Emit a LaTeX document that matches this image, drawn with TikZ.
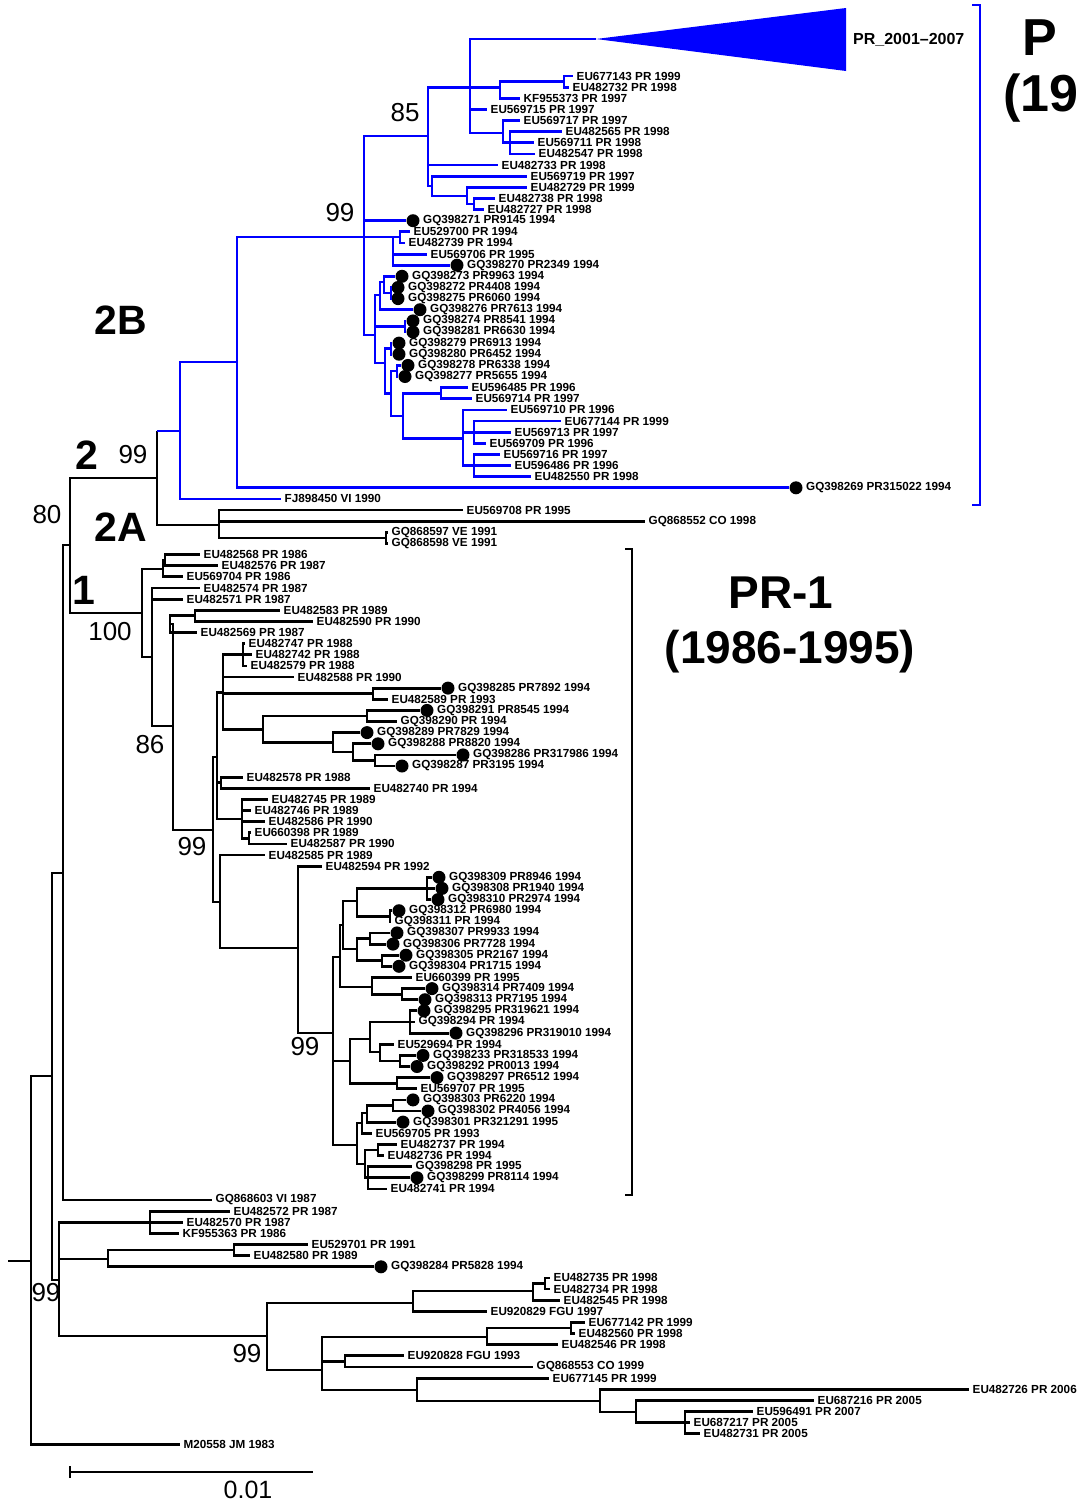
\documentclass[tikz,border=0pt]{standalone}
\usepackage{fontspec}
\setmainfont{Liberation Sans}
\definecolor{treeblue}{RGB}{0,0,255}
\newcommand\labfont{\bfseries\fontsize{11.7}{12}\selectfont}
\newcommand\trifont{\bfseries\fontsize{16}{17}\selectfont}
\newcommand\suppfont{\fontsize{26}{28}\selectfont}
\newcommand\cladefont{\bfseries\fontsize{41}{43}\selectfont}
\newcommand\groupfont{\bfseries\fontsize{46}{48}\selectfont}
\newcommand\edgefont{\bfseries\fontsize{52}{54}\selectfont}
\newcommand\scalefont{\fontsize{25}{27}\selectfont}
\newcommand\tleaf[4]{\node[leaf] (#1) at (#2,#3) {#4};}
\newcommand\tdot[4]{\node[dotn] (#1) at (#2,#3) {}; \node[lbl] (#1t) at ({#2+10},#3) {#4};}
\begin{document}
\begin{tikzpicture}[x=1pt,y=-1pt,
  br/.style={line width=2.8pt},
  bb/.style={line width=2.8pt, draw=treeblue},
  leaf/.style={anchor=west, inner xsep=3.5pt, inner ysep=0pt, font=\labfont},
  lbl/.style={anchor=west, inner sep=0pt, font=\labfont},
  dotn/.style={circle, fill=black, minimum size=13pt, inner sep=0pt},
  supp/.style={font=\suppfont, inner sep=0pt},
  clade/.style={font=\cladefont, inner sep=0pt},
  grp/.style={font=\groupfont, inner sep=0pt}]
\useasboundingbox (0,0) rectangle (1081,1510);
\clip (0,0) rectangle (1081,1510);
\fill[white] (0,0) rectangle (1081,1510);

% ---------------- leaves ----------------
\tleaf{l2}{573}{76.0}{EU677143 PR 1999}
\tleaf{l3}{569}{87.1}{EU482732 PR 1998}
\tleaf{l4}{520}{98.3}{KF955373 PR 1997}
\tleaf{l5}{487}{109.4}{EU569715 PR 1997}
\tleaf{l6}{520}{120.5}{EU569717 PR 1997}
\tleaf{l7}{562}{131.7}{EU482565 PR 1998}
\tleaf{l8}{534}{142.8}{EU569711 PR 1998}
\tleaf{l9}{535}{153.9}{EU482547 PR 1998}
\tleaf{l10}{498}{165.0}{EU482733 PR 1998}
\tleaf{l11}{527}{176.2}{EU569719 PR 1997}
\tleaf{l12}{527}{187.3}{EU482729 PR 1999}
\tleaf{l13}{495}{198.4}{EU482738 PR 1998}
\tleaf{l14}{484}{209.6}{EU482727 PR 1998}
\tdot{l15}{413}{220.7}{GQ398271 PR9145 1994}
\tleaf{l16}{410}{231.8}{EU529700 PR 1994}
\tleaf{l17}{405}{242.9}{EU482739 PR 1994}
\tleaf{l18}{427}{254.1}{EU569706 PR 1995}
\tdot{l19}{457}{265.2}{GQ398270 PR2349 1994}
\tdot{l20}{402}{276.3}{GQ398273 PR9963 1994}
\tdot{l21}{398}{287.5}{GQ398272 PR4408 1994}
\tdot{l22}{398}{298.6}{GQ398275 PR6060 1994}
\tdot{l23}{420}{309.7}{GQ398276 PR7613 1994}
\tdot{l24}{413}{320.9}{GQ398274 PR8541 1994}
\tdot{l25}{413}{332.0}{GQ398281 PR6630 1994}
\tdot{l26}{399}{343.1}{GQ398279 PR6913 1994}
\tdot{l27}{399}{354.2}{GQ398280 PR6452 1994}
\tdot{l28}{408}{365.4}{GQ398278 PR6338 1994}
\tdot{l29}{405}{376.5}{GQ398277 PR5655 1994}
\tleaf{l30}{468}{387.6}{EU596485 PR 1996}
\tleaf{l31}{472}{398.8}{EU569714 PR 1997}
\tleaf{l32}{507}{409.9}{EU569710 PR 1996}
\tleaf{l33}{561}{421.0}{EU677144 PR 1999}
\tleaf{l34}{511}{432.1}{EU569713 PR 1997}
\tleaf{l35}{486}{443.3}{EU569709 PR 1996}
\tleaf{l36}{500}{454.4}{EU569716 PR 1997}
\tleaf{l37}{511}{465.5}{EU596486 PR 1996}
\tleaf{l38}{531}{476.7}{EU482550 PR 1998}
\tdot{l39}{796}{487.8}{GQ398269 PR315022 1994}
\tleaf{l40}{281}{498.9}{FJ898450 VI 1990}
\tleaf{l41}{463}{510.0}{EU569708 PR 1995}
\tleaf{l42}{645}{521.2}{GQ868552 CO 1998}
\tleaf{l43}{388}{532.3}{GQ868597 VE 1991}
\tleaf{l44}{388}{543.4}{GQ868598 VE 1991}
\tleaf{l45}{200}{554.6}{EU482568 PR 1986}
\tleaf{l46}{218}{565.7}{EU482576 PR 1987}
\tleaf{l47}{183}{576.8}{EU569704 PR 1986}
\tleaf{l48}{200}{588.0}{EU482574 PR 1987}
\tleaf{l49}{183}{599.1}{EU482571 PR 1987}
\tleaf{l50}{280}{610.2}{EU482583 PR 1989}
\tleaf{l51}{313}{621.3}{EU482590 PR 1990}
\tleaf{l52}{197}{632.5}{EU482569 PR 1987}
\tleaf{l53}{245}{643.6}{EU482747 PR 1988}
\tleaf{l54}{252}{654.7}{EU482742 PR 1988}
\tleaf{l55}{247}{665.9}{EU482579 PR 1988}
\tleaf{l56}{294}{677.0}{EU482588 PR 1990}
\tdot{l57}{448}{688.1}{GQ398285 PR7892 1994}
\tleaf{l58}{388}{699.2}{EU482589 PR 1993}
\tdot{l59}{427}{710.4}{GQ398291 PR8545 1994}
\tleaf{l60}{397}{721.5}{GQ398290 PR 1994}
\tdot{l61}{367}{732.6}{GQ398289 PR7829 1994}
\tdot{l62}{378}{743.8}{GQ398288 PR8820 1994}
\tdot{l63}{463}{754.9}{GQ398286 PR317986 1994}
\tdot{l64}{402}{766.0}{GQ398287 PR3195 1994}
\tleaf{l65}{243}{777.1}{EU482578 PR 1988}
\tleaf{l66}{370}{788.3}{EU482740 PR 1994}
\tleaf{l67}{268}{799.4}{EU482745 PR 1989}
\tleaf{l68}{251}{810.5}{EU482746 PR 1989}
\tleaf{l69}{265}{821.7}{EU482586 PR 1990}
\tleaf{l70}{251}{832.8}{EU660398 PR 1989}
\tleaf{l71}{287}{843.9}{EU482587 PR 1990}
\tleaf{l72}{265}{855.0}{EU482585 PR 1989}
\tleaf{l73}{322}{866.2}{EU482594 PR 1992}
\tdot{l74}{439}{877.3}{GQ398309 PR8946 1994}
\tdot{l75}{442}{888.4}{GQ398308 PR1940 1994}
\tdot{l76}{438}{899.6}{GQ398310 PR2974 1994}
\tdot{l77}{399}{910.7}{GQ398312 PR6980 1994}
\tleaf{l78}{391}{921.8}{GQ398311 PR 1994}
\tdot{l79}{397}{932.9}{GQ398307 PR9933 1994}
\tdot{l80}{393}{944.1}{GQ398306 PR7728 1994}
\tdot{l81}{406}{955.2}{GQ398305 PR2167 1994}
\tdot{l82}{399}{966.3}{GQ398304 PR1715 1994}
\tleaf{l83}{412}{977.5}{EU660399 PR 1995}
\tdot{l84}{432}{988.6}{GQ398314 PR7409 1994}
\tdot{l85}{425}{999.7}{GQ398313 PR7195 1994}
\tdot{l86}{424}{1010.8}{GQ398295 PR319621 1994}
\tleaf{l87}{415}{1022.0}{GQ398294 PR 1994}
\tdot{l88}{456}{1033.1}{GQ398296 PR319010 1994}
\tleaf{l89}{394}{1044.2}{EU529694 PR 1994}
\tdot{l90}{423}{1055.4}{GQ398233 PR318533 1994}
\tdot{l91}{417}{1066.5}{GQ398292 PR0013 1994}
\tdot{l92}{437}{1077.6}{GQ398297 PR6512 1994}
\tleaf{l93}{417}{1088.7}{EU569707 PR 1995}
\tdot{l94}{413}{1099.9}{GQ398303 PR6220 1994}
\tdot{l95}{428}{1111.0}{GQ398302 PR4056 1994}
\tdot{l96}{403}{1122.1}{GQ398301 PR321291 1995}
\tleaf{l97}{372}{1133.3}{EU569705 PR 1993}
\tleaf{l98}{397}{1144.4}{EU482737 PR 1994}
\tleaf{l99}{384}{1155.5}{EU482736 PR 1994}
\tleaf{l100}{412}{1166.6}{GQ398298 PR 1995}
\tdot{l101}{417}{1177.8}{GQ398299 PR8114 1994}
\tleaf{l102}{387}{1188.9}{EU482741 PR 1994}
\tleaf{l103}{212}{1200.0}{GQ868603 VI 1987}
\tleaf{l104}{230}{1211.1}{EU482572 PR 1987}
\tleaf{l105}{183}{1222.3}{EU482570 PR 1987}
\tleaf{l106}{179}{1233.4}{KF955363 PR 1986}
\tleaf{l107}{308}{1244.5}{EU529701 PR 1991}
\tleaf{l108}{250}{1255.7}{EU482580 PR 1989}
\tdot{l109}{381}{1266.8}{GQ398284 PR5828 1994}
\tleaf{l110}{550}{1277.9}{EU482735 PR 1998}
\tleaf{l111}{550}{1289.0}{EU482734 PR 1998}
\tleaf{l112}{560}{1300.2}{EU482545 PR 1998}
\tleaf{l113}{487}{1311.3}{EU920829 FGU 1997}
\tleaf{l114}{585}{1322.4}{EU677142 PR 1999}
\tleaf{l115}{575}{1333.6}{EU482560 PR 1998}
\tleaf{l116}{558}{1344.7}{EU482546 PR 1998}
\tleaf{l117}{404}{1355.8}{EU920828 FGU 1993}
\tleaf{l118}{533}{1366.9}{GQ868553 CO 1999}
\tleaf{l119}{549}{1378.1}{EU677145 PR 1999}
\tleaf{l120}{969}{1389.2}{EU482726 PR 2006}
\tleaf{l121}{814}{1400.3}{EU687216 PR 2005}
\tleaf{l122}{753}{1411.5}{EU596491 PR 2007}
\tleaf{l123}{690}{1422.6}{EU687217 PR 2005}
\tleaf{l124}{700}{1433.7}{EU482731 PR 2005}
\tleaf{l125}{180}{1444.8}{M20558 JM 1983}

% ---------------- internal nodes: blue clade ----------------
\coordinate (tri) at (596,39);
\coordinate (n564) at (564,81.5);
\coordinate (n500) at (500,87.1);
\coordinate (n470) at (470,87.1);
\coordinate (n510) at (510,142.8);
\coordinate (n503) at (503,133);
\coordinate (n474) at (474,204);
\coordinate (n467) at (467,196);
\coordinate (n432) at (432,186);
\coordinate (n428) at (428,136);
\coordinate (n400) at (400,237);
\coordinate (n393) at (393,237);
\coordinate (n391a) at (391,293);
\coordinate (n384) at (384,282);
\coordinate (n380) at (380,295);
\coordinate (n405) at (405,326.5);
\coordinate (n393b) at (391,348.7);
\coordinate (n400b) at (397,371);
\coordinate (n441) at (441,393.2);
\coordinate (n474a) at (474,432.1);
\coordinate (n474b) at (474,465.5);
\coordinate (n463) at (463,438.8);
\coordinate (n403) at (403,416);
\coordinate (n391b) at (391,393.5);
\coordinate (n385) at (385,363);
\coordinate (n375) at (375,335);
\coordinate (n364) at (364,237);
\coordinate (n237) at (237,362);
\coordinate (n180) at (180,431);
\coordinate (n157) at (157,478);

\fill[treeblue] (tri) -- (846,8) -- (846,71) -- cycle;
\node[anchor=west, inner sep=0pt, font=\trifont] (tril) at (853,40) {PR\_2001--2007};

\draw[bb] (n564) |- (l2.west) (n564) |- (l3.west);
\draw[bb] (n500) |- (n564) (n500) |- (l4.west);
\draw[bb] (n470) |- (tri) (n470) |- (n500) (n470) |- (l5.west) (n470) |- (n503);
\draw[bb] (n503) |- (l6.west) (n503) |- (n510);
\draw[bb] (n510) |- (l7.west) (n510) |- (l8.west) (n510) |- (l9.west);
\draw[bb] (n474) |- (l13.west) (n474) |- (l14.west);
\draw[bb] (n467) |- (l12.west) (n467) |- (n474);
\draw[bb] (n432) |- (l11.west) (n432) |- (n467);
\draw[bb] (n428) |- (n470) (n428) |- (l10.west) (n428) |- (n432);
\draw[bb] (n400) |- (l16.west) (n400) |- (l17.west);
\draw[bb] (n393) |- (n400) (n393) |- (l18.west) (n393) |- (l19.west);
\draw[bb] (n391a) |- (l21.west) (n391a) |- (l22.west);
\draw[bb] (n384) |- (l20.west) (n384) |- (n391a);
\draw[bb] (n380) |- (n384) (n380) |- (l23.west);
\draw[bb] (n405) |- (l24.west) (n405) |- (l25.west);
\draw[bb] (n393b) |- (l26.west) (n393b) |- (l27.west);
\draw[bb] (n400b) |- (l28.west) (n400b) |- (l29.west);
\draw[bb] (n441) |- (l30.west) (n441) |- (l31.west);
\draw[bb] (n474a) |- (l33.west) (n474a) |- (l34.west) (n474a) |- (l35.west);
\draw[bb] (n474b) |- (l36.west) (n474b) |- (l37.west) (n474b) |- (l38.west);
\draw[bb] (n463) |- (l32.west) (n463) |- (n474a) (n463) |- (n474b);
\draw[bb] (n403) |- (n441) (n403) |- (n463);
\draw[bb] (n391b) |- (n400b) (n391b) |- (n403);
\draw[bb] (n385) |- (n393b) (n385) |- (n391b);
\draw[bb] (n375) |- (n380) (n375) |- (n405) (n375) |- (n385);
\draw[bb] (n364) |- (n428) (n364) |- (l15.west) (n364) |- (n393) (n364) |- (n375);
\draw[bb] (n237) |- (n364) (n237) |- (l39.west);
\draw[bb] (n180) |- (n237) (n180) |- (l40.west);
\draw[br] (n157) -- (n157 |- n180);
\draw[bb] (n157 |- n180) -- (n180);

% ---------------- 2A ----------------
\coordinate (n219) at (219,525);
\coordinate (n386) at (386,537.9);
\draw[br] (n386) |- (l43.west) (n386) |- (l44.west);
\draw[br] (n219) |- (l41.west) (n219) |- (l42.west) (n219) |- (n386);
\draw[br] (n157) |- (n219);

% ---------------- group 1 ----------------
\coordinate (n70) at (70,545);
\coordinate (n142) at (142,613);
\coordinate (n165) at (165,560.2);
\coordinate (n163) at (163,569);
\coordinate (n152) at (152,657);
\coordinate (n195) at (195,615.8);
\coordinate (n170) at (170,624);
\coordinate (n173) at (173,726);
\coordinate (n213) at (213,830);
\coordinate (n217) at (217,757);
\coordinate (n223) at (223,692.5);
\coordinate (n243) at (243,654.7);
\coordinate (n373) at (373,693.7);
\coordinate (n367) at (367,716);
\coordinate (n375c) at (375,760.5);
\coordinate (n353) at (353,752);
\coordinate (n333b) at (333,742.3);
\coordinate (n263) at (263,729.2);
\coordinate (n221) at (221,782.7);
\coordinate (n249) at (249,838.4);
\coordinate (n242) at (242,819);
\coordinate (n220) at (220,902);
\coordinate (n298) at (298,948);

\draw[br] (n165) |- (l45.west) (n165) |- (l46.west);
\draw[br] (n163) |- (n165) (n163) |- (l47.west);
\draw[br] (n195) |- (l50.west) (n195) |- (l51.west);
\draw[br] (n170) |- (n195) (n170) |- (l52.west);
\draw[br] (n243) |- (l53.west) (n243) |- (l54.west) (n243) |- (l55.west);
\draw[br] (n373) |- (l57.west) (n373) |- (l58.west);
\draw[br] (n367) |- (l59.west) (n367) |- (l60.west);
\draw[br] (n375c) |- (l63.west) (n375c) |- (l64.west);
\draw[br] (n353) |- (l62.west) (n353) |- (n375c);
\draw[br] (n333b) |- (l61.west) (n333b) |- (n353);
\draw[br] (n263) |- (n367) (n263) |- (n333b);
\draw[br] (n223) |- (n243) (n223) |- (l56.west) (n223) |- (n373) (n223) |- (n263);
\draw[br] (n221) |- (l65.west) (n221) |- (l66.west);
\draw[br] (n249) |- (l70.west) (n249) |- (l71.west);
\draw[br] (n242) |- (l67.west) (n242) |- (l68.west) (n242) |- (l69.west) (n242) |- (n249);
\draw[br] (n217) |- (n223) (n217) |- (n221) (n217) |- (n242);
\draw[br] (n213) |- (n217) (n213) |- (n220);
\draw[br] (n173) |- (n170) (n173) |- (n213);
\draw[br] (n152) |- (l48.west) (n152) |- (l49.west) (n152) |- (n173);
\draw[br] (n142) |- (n163) (n142) |- (n152);
\draw[br] (n70) |- (n157) (n70) |- (n142);
\draw[br] (n220) |- (l72.west) (n220) |- (n298);

% ---------------- big GQ clade ----------------
\coordinate (n333) at (333,1033);
\coordinate (n340) at (340,957);
\coordinate (n343) at (343,925);
\coordinate (n357a) at (357,901);
\coordinate (n427) at (427,888.4);
\coordinate (n390) at (390,916.2);
\coordinate (n357b) at (357,949);
\coordinate (n370b) at (370,938.5);
\coordinate (n382) at (382,960.7);
\coordinate (n372) at (372,987);
\coordinate (n402) at (402,994.2);
\coordinate (n350) at (350,1061);
\coordinate (n370) at (370,1039);
\coordinate (n410) at (410,1022);
\coordinate (n380b) at (380,1052);
\coordinate (n400c) at (400,1061);
\coordinate (n397b) at (397,1083.2);
\coordinate (n357) at (357,1145);
\coordinate (n362) at (362,1123);
\coordinate (n367b) at (367,1113);
\coordinate (n393c) at (393,1105.5);
\coordinate (n365) at (365,1164);
\coordinate (n378) at (378,1150);
\coordinate (n368) at (368,1177.8);

\draw[br] (n298) |- (l73.west) (n298) |- (n333);
\draw[br] (n427) |- (l74.west) (n427) |- (l75.west) (n427) |- (l76.west);
\draw[br] (n390) |- (l77.west) (n390) |- (l78.west);
\draw[br] (n357a) |- (n427) (n357a) |- (n390);
\draw[br] (n370b) |- (l79.west) (n370b) |- (l80.west);
\draw[br] (n382) |- (l81.west) (n382) |- (l82.west);
\draw[br] (n357b) |- (n370b) (n357b) |- (n382);
\draw[br] (n343) |- (n357a) (n343) |- (n357b);
\draw[br] (n402) |- (l84.west) (n402) |- (l85.west);
\draw[br] (n372) |- (l83.west) (n372) |- (n402);
\draw[br] (n340) |- (n343) (n340) |- (n372);
\draw[br] (n410) |- (l86.west) (n410) |- (l87.west) (n410) |- (l88.west);
\draw[br] (n400c) |- (l90.west) (n400c) |- (l91.west);
\draw[br] (n380b) |- (l89.west) (n380b) |- (n400c);
\draw[br] (n370) |- (n410) (n370) |- (n380b);
\draw[br] (n397b) |- (l92.west) (n397b) |- (l93.west);
\draw[br] (n350) |- (n370) (n350) |- (n397b);
\draw[br] (n393c) |- (l94.west) (n393c) |- (l95.west);
\draw[br] (n367b) |- (n393c) (n367b) |- (l96.west);
\draw[br] (n362) |- (n367b) (n362) |- (l97.west);
\draw[br] (n378) |- (l98.west) (n378) |- (l99.west);
\draw[br] (n368) |- (l100.west) (n368) |- (l101.west) (n368) |- (l102.west);
\draw[br] (n365) |- (n378) (n365) |- (n368);
\draw[br] (n357) |- (n362) (n357) |- (n365);
\draw[br] (n333) |- (n340) (n333) |- (n350) (n333) |- (n357);

% ---------------- bottom and root ----------------
\coordinate (n63) at (63,873);
\coordinate (n150) at (150,1222.3);
\coordinate (n234) at (234,1250);
\coordinate (n108) at (108,1259);
\coordinate (n545) at (545,1283.5);
\coordinate (n533) at (533,1291);
\coordinate (n413) at (413,1303);
\coordinate (n571) at (571,1328);
\coordinate (n487) at (487,1337);
\coordinate (n345) at (345,1361.4);
\coordinate (n685) at (685,1422.6);
\coordinate (n636) at (636,1412);
\coordinate (n600) at (600,1401);
\coordinate (n417) at (417,1390);
\coordinate (n322) at (322,1370);
\coordinate (n267) at (267,1336);
\coordinate (n59) at (59,1280);
\coordinate (n52) at (52,1076);
\coordinate (root) at (31,1261);
\coordinate (stub) at (8,1261);

\draw[br] (n150) |- (l104.west) (n150) |- (l105.west) (n150) |- (l106.west);
\draw[br] (n234) |- (l107.west) (n234) |- (l108.west);
\draw[br] (n108) |- (n234) (n108) |- (l109.west);
\draw[br] (n545) |- (l110.west) (n545) |- (l111.west);
\draw[br] (n533) |- (n545) (n533) |- (l112.west);
\draw[br] (n413) |- (n533) (n413) |- (l113.west);
\draw[br] (n571) |- (l114.west) (n571) |- (l115.west);
\draw[br] (n487) |- (n571) (n487) |- (l116.west);
\draw[br] (n345) |- (l117.west) (n345) |- (l118.west);
\draw[br] (n685) |- (l122.west) (n685) |- (l123.west) (n685) |- (l124.west);
\draw[br] (n636) |- (l121.west) (n636) |- (n685);
\draw[br] (n600) |- (l120.west) (n600) |- (n636);
\draw[br] (n417) |- (l119.west) (n417) |- (n600);
\draw[br] (n322) |- (n487) (n322) |- (n345) (n322) |- (n417);
\draw[br] (n267) |- (n413) (n267) |- (n322);
\draw[br] (n59) |- (n150) (n59) |- (n108) (n59) |- (n267);
\draw[br] (n63) |- (n70) (n63) |- (l103.west);
\draw[br] (n52) |- (n63) (n52) |- (n59);
\draw[br] (root) |- (n52) (root) |- (l125.west);
\draw[br] (stub) -- (root);

% ---------------- support values ----------------
\node[supp] (s85) at (405,113) {85};
\node[supp] (s99a) at (340,213) {99};
\node[supp] (s99b) at (133,455) {99};
\node[supp] (s80) at (47,515) {80};
\node[supp] (s100) at (110,632) {100};
\node[supp] (s86) at (150,745) {86};
\node[supp] (s99c) at (192,847) {99};
\node[supp] (s99d) at (305,1047) {99};
\node[supp] (s99e) at (46,1293) {99};
\node[supp] (s99f) at (247,1354) {99};

% ---------------- clade labels ----------------
\node[clade] (c2B) at (121,320) {2B};
\node[clade] (c2) at (87,455) {2};
\node[clade] (c2A) at (121,527) {2A};
\node[clade] (c1) at (84,590) {1};

% ---------------- brackets ----------------
\draw[line width=2.8pt, treeblue] (972,5) -- (980,5) -- (980,505) -- (972,505);
\draw[line width=2.8pt] (625,549) -- (632,549) -- (632,1195) -- (625,1195);
\node[grp] (pr1) at (781,593) {PR-1};
\node[grp] (pr1y) at (790,652) {(1986-1995)};
\node[anchor=west, inner sep=0pt, font=\edgefont] (pr2) at (1022,38) {P};
\node[anchor=west, inner sep=0pt, font=\edgefont] (pr2y) at (1003,98) {(19};

% ---------------- scale bar ----------------
\coordinate (sbl) at (70,1472);
\coordinate (sbr) at (313,1472);
\draw[br] (sbl) -- (sbr);
\draw[br] ([yshift=-6pt]sbl) -- ([yshift=6pt]sbl);
\node[font=\scalefont, inner sep=0pt] (sbt) at (248,1490) {0.01};
\end{tikzpicture}
\end{document}
